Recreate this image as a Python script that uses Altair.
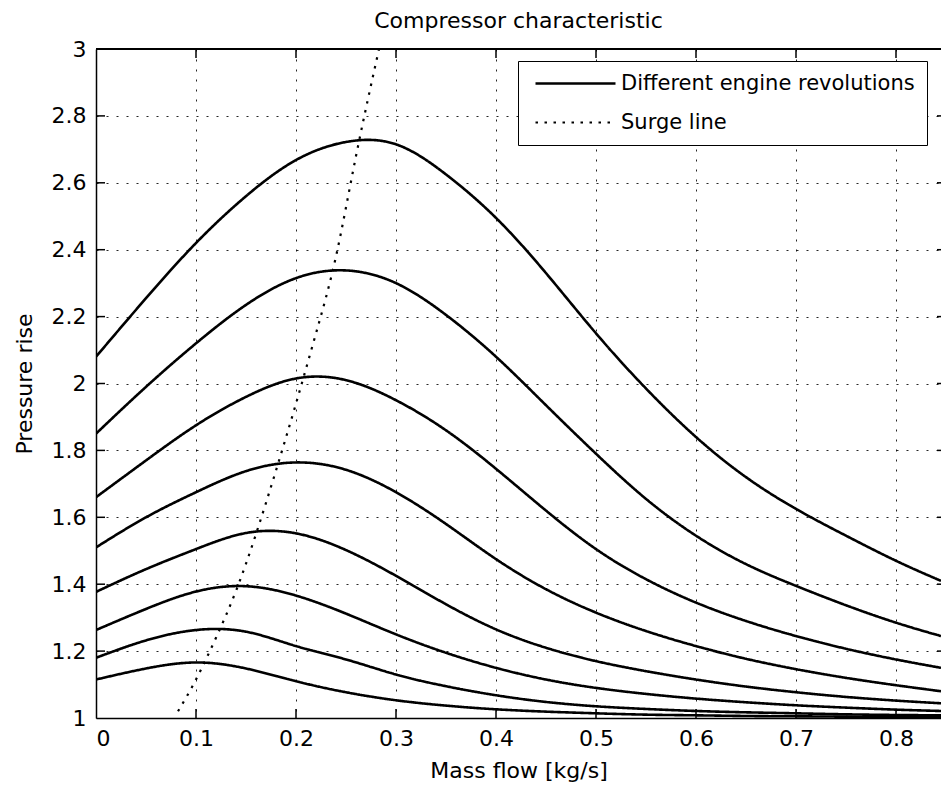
import altair as alt
import pandas as pd

# Mass-flow grid shared by all speed lines [kg/s]
mass_flow = [0.0, 0.05, 0.1, 0.15, 0.2, 0.25, 0.3, 0.35, 0.4, 0.45,
             0.5, 0.55, 0.6, 0.65, 0.7, 0.75, 0.8, 0.845]

# Pressure rise along each constant-speed line (highest speed first)
speed_1 = [2.08, 2.255, 2.42, 2.56, 2.668, 2.722, 2.715, 2.625, 2.495, 2.33,
           2.15, 1.985, 1.84, 1.72, 1.625, 1.545, 1.47, 1.41]
speed_2 = [1.85, 1.99, 2.12, 2.235, 2.315, 2.338, 2.30, 2.205, 2.08, 1.935,
           1.79, 1.655, 1.545, 1.46, 1.395, 1.337, 1.285, 1.245]
speed_3 = [1.66, 1.77, 1.875, 1.96, 2.015, 2.01, 1.95, 1.86, 1.745, 1.62,
           1.505, 1.415, 1.345, 1.29, 1.245, 1.207, 1.175, 1.15]
speed_4 = [1.51, 1.60, 1.675, 1.738, 1.764, 1.742, 1.675, 1.58, 1.475, 1.385,
           1.315, 1.26, 1.215, 1.177, 1.146, 1.12, 1.098, 1.08]
speed_5 = [1.377, 1.445, 1.505, 1.553, 1.552, 1.502, 1.425, 1.34, 1.265, 1.21,
           1.17, 1.14, 1.115, 1.094, 1.077, 1.063, 1.052, 1.044]
speed_6 = [1.263, 1.326, 1.378, 1.394, 1.366, 1.312, 1.25, 1.195, 1.15, 1.115,
           1.09, 1.072, 1.058, 1.047, 1.038, 1.031, 1.025, 1.021]
speed_7 = [1.18, 1.232, 1.263, 1.258, 1.215, 1.175, 1.13, 1.095, 1.068, 1.048,
           1.035, 1.027, 1.021, 1.017, 1.014, 1.011, 1.009, 1.008]
speed_8 = [1.115, 1.148, 1.166, 1.148, 1.11, 1.077, 1.053, 1.037, 1.026, 1.019,
           1.014, 1.01, 1.008, 1.006, 1.005, 1.004, 1.003, 1.003]
speed_lines = [speed_1, speed_2, speed_3, speed_4, speed_5, speed_6, speed_7, speed_8]

# Surge line
surge_flow = [0.082, 0.1, 0.12, 0.14, 0.16, 0.18, 0.2, 0.22, 0.24, 0.26, 0.283]
surge_pressure = [1.02, 1.115, 1.24, 1.38, 1.55, 1.74, 1.94, 2.15, 2.38, 2.68, 3.0]

x_ticks = [0.1, 0.2, 0.3, 0.4, 0.5, 0.6, 0.7, 0.8]
y_ticks = [1.2, 1.4, 1.6, 1.8, 2.0, 2.2, 2.4, 2.6, 2.8]

LABEL_SPEED = "Different engine revolutions"
LABEL_SURGE = "Surge line"
FONT = "DejaVu Sans"

W, H = 845, 669

rows = []
for k, values in enumerate(speed_lines):
    for xv, yv in zip(mass_flow, values):
        rows.append({"flow": xv, "pressure": yv, "line": f"n{k + 1}", "kind": LABEL_SPEED})
for xv, yv in zip(surge_flow, surge_pressure):
    rows.append({"flow": xv, "pressure": yv, "line": "surge", "kind": LABEL_SURGE})
lines_df = pd.DataFrame(rows)

x_scale = alt.Scale(domain=[0, 0.845], nice=False, zero=False)
y_scale = alt.Scale(domain=[1, 3], nice=False, zero=False)

curves = alt.Chart(lines_df).mark_line(interpolate="natural", clip=True, color="black").encode(
    x=alt.X("flow:Q", scale=x_scale, title="Mass flow [kg/s]",
            axis=alt.Axis(values=[0, 0.1, 0.2, 0.3, 0.4, 0.5, 0.6, 0.7, 0.8], format="~g",
                          labelPadding=10, titlePadding=11)),
    y=alt.Y("pressure:Q", scale=y_scale, title="Pressure rise",
            axis=alt.Axis(values=[1, 1.2, 1.4, 1.6, 1.8, 2, 2.2, 2.4, 2.6, 2.8, 3], format="~g",
                          labelPadding=10, titlePadding=15)),
    detail="line:N",
    strokeDash=alt.StrokeDash(
        "kind:N",
        scale=alt.Scale(domain=[LABEL_SPEED, LABEL_SURGE], range=[[1, 0], [2.5, 6.5]]),
        legend=alt.Legend(
            title=None, orient="none", legendX=422, legendY=12,
            # horizontal 80 px stroke starting just left of the symbol centre
            symbolType="M-1,0H15", symbolSize=100, symbolStrokeWidth=2.5,
            symbolStrokeColor="black", symbolFillColor="transparent",
            labelFont=FONT, labelFontSize=21, labelLimit=0,
            labelColor="black", labelOffset=70, rowPadding=17, padding=12,
            strokeColor="black", fillColor="white",
        ),
    ),
    strokeWidth=alt.StrokeWidth(
        "kind:N",
        scale=alt.Scale(domain=[LABEL_SPEED, LABEL_SURGE], range=[2.6, 2.2]),
        legend=None,
    ),
)

xt = pd.DataFrame({"flow": x_ticks})
yt = pd.DataFrame({"pressure": y_ticks})

# inward-pointing tick marks on all four sides of the frame
tick_bottom = alt.Chart(xt).mark_rule(color="black", strokeWidth=1.5).encode(
    x=alt.X("flow:Q", scale=x_scale), y=alt.value(H), y2=alt.value(H - 9))
tick_top = alt.Chart(xt).mark_rule(color="black", strokeWidth=1.5).encode(
    x=alt.X("flow:Q", scale=x_scale), y=alt.value(0), y2=alt.value(9))
tick_left = alt.Chart(yt).mark_rule(color="black", strokeWidth=1.5).encode(
    y=alt.Y("pressure:Q", scale=y_scale), x=alt.value(0), x2=alt.value(9))
tick_right = alt.Chart(yt).mark_rule(color="black", strokeWidth=1.5).encode(
    y=alt.Y("pressure:Q", scale=y_scale), x=alt.value(W), x2=alt.value(W - 4))
top_border = alt.Chart(xt).mark_rule(color="black", strokeWidth=1.5).encode(
    x=alt.value(0), x2=alt.value(W), y=alt.value(0))

chart = alt.layer(curves, tick_bottom, tick_top, tick_left, tick_right, top_border).properties(
    width=W, height=H,
    title=alt.TitleParams("Compressor characteristic", font=FONT, fontSize=22,
                          fontWeight="normal", color="black", anchor="middle", offset=5),
    autosize=alt.AutoSizeParams(type="none"),
    padding={"left": 96, "top": 49, "right": 0, "bottom": 75},
    background="white",
).configure_view(stroke=None).configure_axis(
    labelFont=FONT, labelFontSize=22, labelColor="black",
    titleFont=FONT, titleFontSize=22, titleFontWeight="normal", titleColor="black",
    tickSize=0, domainColor="black", domainWidth=1.5,
    grid=True, gridColor="black", gridDash=[2, 8], gridWidth=1, gridOpacity=0.85,
)

chart.save("out.html", embed_options={"renderer": "svg", "actions": False})
